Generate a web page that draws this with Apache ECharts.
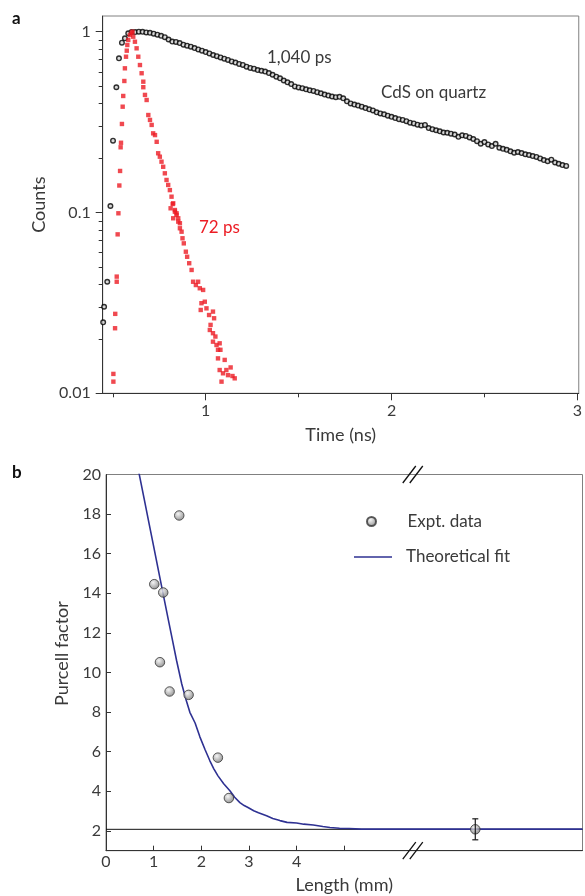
<!DOCTYPE html>
<html><head><meta charset="utf-8">
<script src="https://cdn.jsdelivr.net/npm/echarts@6/dist/echarts.min.js"></script>
<style>html,body{margin:0;padding:0;background:#fff}#c{width:585px;height:896px}</style>
</head><body><div id="c"></div>
<script>
// ---------- Panel a: time-resolved PL (Counts vs Time, ns) ----------
const quartzData = [
 [0.448,0.0247],[0.453,0.0301],[0.470,0.0414],[0.487,0.1086],[0.501,0.2495],[0.519,0.4927],[0.533,0.712],[0.549,0.869],[0.565,0.919],[0.583,0.980],[0.601,0.996],
 [0.62,0.995],[0.64,1.000],[0.66,0.998],[0.68,0.990],[0.70,0.985],[0.72,0.975],[0.74,0.962],[0.76,0.948],[0.78,0.932],[0.80,0.905],
 [0.82,0.882],[0.84,0.878],[0.86,0.865],[0.88,0.848],[0.90,0.837],[0.92,0.826],[0.94,0.812],[0.96,0.798],[0.98,0.785],[1.00,0.771],
 [1.02,0.758],[1.04,0.743],[1.06,0.732],[1.08,0.720],[1.10,0.709],[1.12,0.698],[1.14,0.685],[1.16,0.675],[1.18,0.663],[1.20,0.655],
 [1.22,0.640],[1.24,0.630],[1.26,0.624],[1.28,0.613],[1.30,0.608],[1.32,0.602],[1.34,0.590],[1.36,0.578],[1.38,0.564],[1.40,0.552],
 [1.42,0.537],[1.44,0.525],[1.46,0.513],[1.48,0.498],[1.50,0.492],[1.52,0.487],[1.54,0.480],[1.56,0.474],[1.58,0.470],[1.60,0.463],
 [1.62,0.456],[1.64,0.449],[1.66,0.443],[1.68,0.438],[1.70,0.434],[1.72,0.436],[1.74,0.428],[1.76,0.412],[1.78,0.401],[1.80,0.395],
 [1.82,0.390],[1.84,0.385],[1.86,0.378],[1.88,0.372],[1.90,0.367],[1.92,0.358],[1.94,0.353],[1.96,0.349],[1.98,0.343],[2.00,0.338],
 [2.02,0.333],[2.04,0.328],[2.06,0.325],[2.08,0.320],[2.10,0.314],[2.12,0.311],[2.14,0.306],[2.16,0.303],[2.18,0.305],[2.20,0.293],
 [2.22,0.289],[2.24,0.285],[2.26,0.281],[2.28,0.277],[2.30,0.276],[2.32,0.273],[2.34,0.270],[2.36,0.262],[2.38,0.267],[2.40,0.265],
 [2.42,0.260],[2.44,0.255],[2.46,0.248],[2.48,0.240],[2.50,0.245],[2.52,0.238],[2.54,0.233],[2.56,0.240],[2.58,0.228],[2.60,0.225],
 [2.62,0.222],[2.64,0.218],[2.66,0.214],[2.68,0.216],[2.70,0.213],[2.72,0.210],[2.74,0.208],[2.76,0.205],[2.78,0.203],[2.80,0.199],
 [2.82,0.195],[2.84,0.192],[2.86,0.196],[2.88,0.189],[2.90,0.186],[2.92,0.183],[2.94,0.181]
];
const wireData = [
 [0.503,0.0116],[0.503,0.0128],[0.512,0.0229],[0.513,0.0275],[0.521,0.0414],[0.521,0.0442],[0.526,0.0757],[0.530,0.099],[0.535,0.141],
 [0.539,0.1697],[0.542,0.2294],[0.544,0.243],[0.549,0.3087],[0.553,0.3847],[0.556,0.441],[0.562,0.5337],[0.565,0.6272],[0.571,0.727],
 [0.575,0.785],[0.578,0.844],[0.583,0.900],[0.592,0.959],[0.601,0.987],[0.606,1.000],
 [0.610,0.938],[0.619,0.880],[0.628,0.809],[0.637,0.727],[0.646,0.654],[0.655,0.589],[0.664,0.529],[0.664,0.493],[0.673,0.447],
 [0.682,0.419],[0.691,0.346],[0.700,0.325],[0.709,0.305],[0.717,0.274],[0.727,0.268],[0.736,0.246],[0.744,0.2126],[0.753,0.2035],
 [0.762,0.191],[0.771,0.179],[0.780,0.1647],[0.789,0.1513],[0.798,0.142],[0.807,0.133],[0.816,0.1223],[0.825,0.1124],[0.834,0.1032],
 [0.843,0.099],[0.852,0.0929],[0.861,0.0872],
 [0.811,0.1055],[0.822,0.1114],[0.825,0.0929],[0.834,0.101],[0.843,0.0969],[0.852,0.089],[0.861,0.0818],[0.870,0.0783],[0.875,0.072],
 [0.882,0.0675],[0.893,0.0607],[0.900,0.0569],[0.911,0.0524],[0.924,0.0481],[0.932,0.0414],[0.947,0.0397],[0.959,0.0414],[0.968,0.0381],
 [0.986,0.0373],[0.977,0.0315],[0.995,0.0321],[1.004,0.0295],[0.973,0.0289],[1.018,0.0271],[1.039,0.0283],[1.045,0.026],[1.026,0.0239],
 [1.022,0.0224],[1.039,0.0215],[1.052,0.0206],[1.039,0.0193],[1.058,0.0185],[1.075,0.0189],[1.066,0.0174],[1.079,0.0174],[1.066,0.0156],
 [1.102,0.0153],[1.075,0.01345],[1.093,0.0129],[1.111,0.01345],[1.134,0.0139],[1.085,0.0116],[1.120,0.0126],[1.144,0.01246],[1.156,0.0121]
];
const timeLabels = [1, 2, 3];
const timeMinorTicks = [0.5, 1.5, 2.5];
const countLabels = [0.01, 0.1, 1];
const countMinorTicks = [0.02,0.03,0.04,0.05,0.06,0.07,0.08,0.09,0.2,0.3,0.4,0.5,0.6,0.7,0.8,0.9];

// ---------- Panel b: Purcell factor vs Length (mm) ----------
const exptLength  = [1.537, 1.013, 1.201, 1.132, 1.335, 1.734, 2.348, 2.579];
const exptPurcell = [17.93, 14.46, 14.04, 10.52, 9.04, 8.87, 5.70, 3.66];
const fitLength  = [0.66,0.70,0.80,0.90,1.00,1.10,1.20,1.30,1.40,1.48,1.59,1.68,1.76,1.87,1.97,2.08,2.18,2.26,2.35,2.47,2.60,2.70,2.81,2.90,2.98,3.10,3.20,3.37,3.50,3.65,3.80,4.00,4.15,4.35,4.55,4.70,4.90,5.10,5.36,10.0];
const fitPurcell = [20.45,19.98,18.78,17.57,16.37,15.16,13.96,12.76,11.57,10.62,9.42,8.62,7.99,7.45,6.75,6.10,5.54,5.15,4.78,4.38,4.03,3.70,3.43,3.28,3.18,3.02,2.92,2.76,2.63,2.52,2.43,2.40,2.34,2.30,2.22,2.17,2.13,2.12,2.09,2.09];
const bulkLength  = [7.75];
const bulkPurcell = [2.08];
const bulkError   = [0.53];
const refLevel = 2.08;
const lengthLabels = [0, 1, 2, 3, 4];
const lengthTicks  = [1, 2, 3, 4, 5];
const purcellLabels = [2,4,6,8,10,12,14,16,18,20];
const purcellTicks  = [2,4,6,8,10,12,14,16,18];
const axisBreakAt = 6.48;

const FONT = 'Lato';
const TXT = '#3a3a3a';
const AX = '#333';
const chart = echarts.init(document.getElementById('c'), null, {renderer: 'canvas'});

const lblStyle = {fontFamily: FONT, fontSize: 16, color: TXT};
const nameStyle = {fontFamily: FONT, fontSize: 18, color: TXT};
const fmtNum = v => String(+(+v).toPrecision(3));

const option = {
  animation: false,
  backgroundColor: '#fff',
  textStyle: {fontFamily: FONT},
  grid: [
    {left: 102.7, top: 16, right: 5, bottom: 502.7, show: true, borderColor: '#808080', borderWidth: 1, containLabel: false},
    {left: 106, top: 474.5, right: 2.5, bottom: 45.3, show: true, borderColor: '#808080', borderWidth: 1, containLabel: false}
  ],
  xAxis: [
    {type: 'value', gridIndex: 0, position: 'bottom', offset: 0, min: 0.4455, max: 3.0075,
     name: 'Time (ns)', nameLocation: 'middle', nameGap: 33, nameTextStyle: nameStyle,
     axisLine: {show: true, lineStyle: {color: AX, width: 1}},
     axisTick: {show: true, inside: false, length: 7, lineStyle: {color: AX}, customValues: timeLabels},
     axisLabel: Object.assign({margin: 10, customValues: timeLabels, formatter: fmtNum}, lblStyle),
     splitLine: {show: false}},
    {type: 'value', gridIndex: 0, position: 'bottom', offset: 0, min: 0.4455, max: 3.0075,
     axisLine: {show: false}, axisLabel: {show: false}, splitLine: {show: false},
     axisTick: {show: true, inside: false, length: 4, lineStyle: {color: AX}, customValues: timeMinorTicks}},
    {type: 'value', gridIndex: 1, position: 'bottom', offset: 0, min: 0, max: 10,
     name: 'Length (mm)', nameLocation: 'middle', nameGap: 25, nameTextStyle: nameStyle,
     axisLine: {show: true, lineStyle: {color: AX, width: 1}},
     axisTick: {show: true, inside: true, length: 5, lineStyle: {color: AX}, customValues: lengthTicks},
     axisLabel: Object.assign({margin: 3, customValues: lengthLabels}, lblStyle),
     splitLine: {show: false}}
  ],
  yAxis: [
    {type: 'log', logBase: 10, gridIndex: 0, position: 'left', offset: 0, min: 0.01, max: 1.221,
     name: 'Counts', nameLocation: 'middle', nameGap: 52, nameTextStyle: nameStyle,
     axisLine: {show: true, lineStyle: {color: AX, width: 1}},
     axisTick: {show: true, inside: false, length: 7, lineStyle: {color: AX}, customValues: countLabels},
     axisLabel: Object.assign({margin: 12, customValues: countLabels, formatter: fmtNum}, lblStyle),
     splitLine: {show: false}, minorTick: {show: false}},
    {type: 'log', logBase: 10, gridIndex: 0, position: 'left', offset: 0, min: 0.01, max: 1.221,
     axisLine: {show: false}, axisLabel: {show: false}, splitLine: {show: false},
     axisTick: {show: true, inside: false, length: 4, lineStyle: {color: AX}, customValues: countMinorTicks}},
    {type: 'value', gridIndex: 1, position: 'left', offset: 0, min: 1, max: 20,
     name: 'Purcell factor', nameLocation: 'middle', nameGap: 23,
     nameTextStyle: Object.assign({padding: [0, 0, 0, 18]}, nameStyle),
     axisLine: {show: true, lineStyle: {color: AX, width: 1}},
     axisTick: {show: true, inside: true, length: 5, lineStyle: {color: AX}, customValues: purcellTicks},
     axisLabel: Object.assign({margin: 5, customValues: purcellLabels}, lblStyle),
     splitLine: {show: false}}
  ],
  legend: [
    {data: ['Expt. data'], orient: 'vertical', left: 361, top: 508,
     itemWidth: 38, itemHeight: 9, selectedMode: false,
     textStyle: {fontFamily: FONT, fontSize: 17, color: TXT, padding: [0, 0, 0, 12]}},
    {data: [{name: 'Theoretical fit', icon: 'rect'}], orient: 'vertical', left: 349, top: 543.5,
     itemWidth: 38, itemHeight: 1.5, selectedMode: false,
     textStyle: {fontFamily: FONT, fontSize: 17, color: TXT, padding: [0, 0, 0, 9]}}
  ],
  series: [
    {type: 'scatter', name: 'CdS on quartz', xAxisIndex: 0, yAxisIndex: 0, data: quartzData,
     symbol: 'circle', symbolSize: 4.6, itemStyle: {color: '#cfcfcf', borderColor: '#000', borderWidth: 1.4}, z: 3},
    {type: 'scatter', name: 'CdS wire', xAxisIndex: 0, yAxisIndex: 0, data: wireData,
     symbol: 'rect', symbolSize: 4.4, itemStyle: {color: '#ec1c24'}, z: 4},
    {type: 'line', name: 'ref', xAxisIndex: 2, yAxisIndex: 2, data: [[0, refLevel], [10, refLevel]],
     symbol: 'none', lineStyle: {color: '#111', width: 1}, z: 2, silent: true},
    {type: 'line', name: 'Theoretical fit', xAxisIndex: 2, yAxisIndex: 2,
     data: fitLength.map((x, i) => [x, fitPurcell[i]]), symbol: 'none', clip: true,
     color: '#2e3192', lineStyle: {color: '#2e3192', width: 1.6}, z: 3},
    {type: 'scatter', name: 'Expt. data', xAxisIndex: 2, yAxisIndex: 2,
     data: exptLength.map((x, i) => [x, exptPurcell[i]]).concat(bulkLength.map((x, i) => [x, bulkPurcell[i]])),
     symbol: 'circle', symbolSize: 9.5,
     itemStyle: {color: new echarts.graphic.RadialGradient(0.4, 0.35, 0.7, [{offset: 0, color: '#f2f2f2'}, {offset: 1, color: '#6e6e6e'}]),
                 borderColor: '#333', borderWidth: 1}, z: 4},
    {type: 'custom', name: 'err', xAxisIndex: 2, yAxisIndex: 2,
     data: bulkLength.map((x, i) => [x, bulkPurcell[i] - bulkError[i], bulkPurcell[i] + bulkError[i]]),
     renderItem: function (params, api) {
       const x = api.value(0);
       const lo = api.coord([x, api.value(1)]);
       const hi = api.coord([x, api.value(2)]);
       const st = {stroke: '#1a1a1a', lineWidth: 1.2};
       return {type: 'group', children: [
         {type: 'line', shape: {x1: lo[0], y1: lo[1], x2: hi[0], y2: hi[1]}, style: st},
         {type: 'line', shape: {x1: lo[0] - 3, y1: lo[1], x2: lo[0] + 3, y2: lo[1]}, style: st},
         {type: 'line', shape: {x1: hi[0] - 3, y1: hi[1], x2: hi[0] + 3, y2: hi[1]}, style: st}
       ]};
     }, z: 5}
  ]
};
chart.setOption(option);

// Annotations, panel letters and axis-break marks
const pTop = chart.convertToPixel({gridIndex: 1}, [axisBreakAt, 20]);
const pBot = chart.convertToPixel({gridIndex: 1}, [axisBreakAt, 1]);
function breakMark(p) {
  const s = {stroke: '#111', lineWidth: 1.3};
  return [
    {type: 'line', shape: {x1: p[0] - 12, y1: p[1] + 8.5, x2: p[0] + 1, y2: p[1] - 8.5}, style: s, z: 20},
    {type: 'line', shape: {x1: p[0] - 5, y1: p[1] + 8.5, x2: p[0] + 8, y2: p[1] - 8.5}, style: s, z: 20}
  ];
}
const txt = (x, y, t, extra) => Object.assign({type: 'text', x: x, y: y, z: 20,
  style: Object.assign({text: t, fontFamily: FONT, fontSize: 17, fill: TXT, verticalAlign: 'middle'}, extra || {})});
chart.setOption({
  graphic: [
    txt(12, 19, 'a', {fontWeight: 'bold', fill: '#111', fontSize: 17}),
    txt(12, 473, 'b', {fontWeight: 'bold', fill: '#111', fontSize: 17}),
    txt(267, 58, '1,040 ps'),
    txt(381, 93, 'CdS on quartz'),
    txt(199, 228, '72 ps', {fill: '#ec1c24'})
  ].concat(breakMark(pTop), breakMark(pBot))
});
</script>
</body></html>
